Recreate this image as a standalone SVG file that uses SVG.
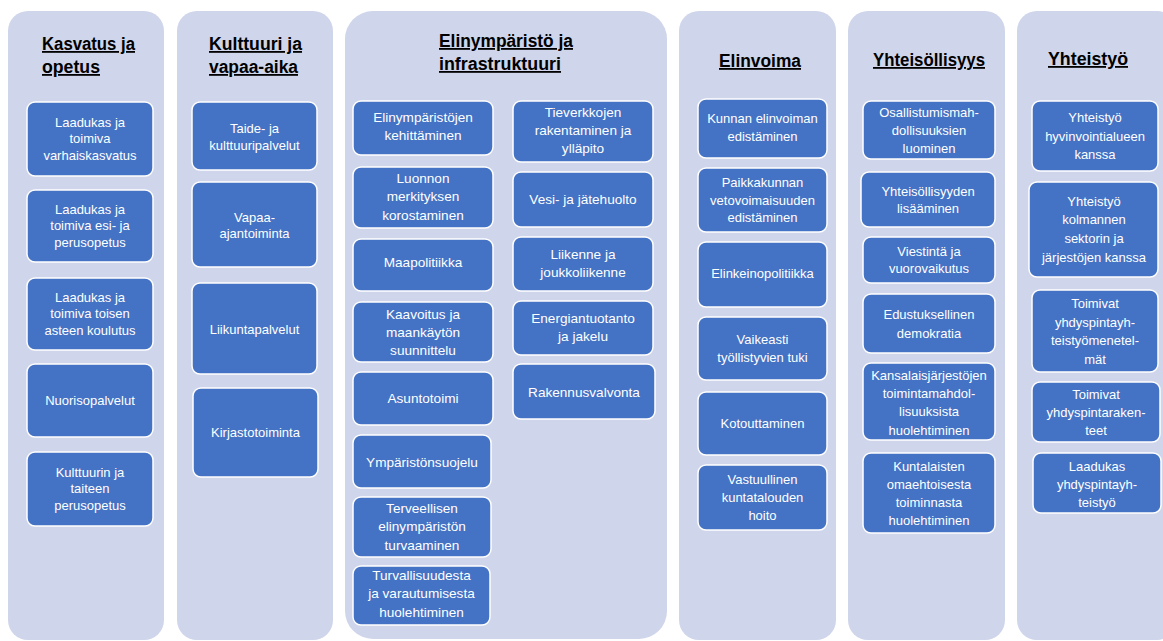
<svg xmlns="http://www.w3.org/2000/svg" width="1163" height="641" viewBox="0 0 1163 641">
<style>
.panel{fill:#CFD5EA;}
.box{fill:#4472C4;stroke:#FFFFFF;stroke-width:1.5;}
.t{font-family:"Liberation Sans",Arial,sans-serif;font-size:13px;fill:#FFFFFF;text-anchor:middle;}
.c3 .t{font-size:13.6px;}
.h{font-family:"Liberation Sans",Arial,sans-serif;font-size:18px;font-weight:bold;fill:#000000;text-decoration:underline;}
</style>
<rect width="1163" height="641" fill="#FFFFFF"/>
<g id="panels">
<rect class="panel" x="8" y="11" width="156" height="629" rx="20"/>
<rect class="panel" x="177" y="11" width="156" height="629" rx="20"/>
<rect class="panel" x="345" y="11" width="322" height="628" rx="28"/>
<rect class="panel" x="679" y="11" width="157" height="629" rx="20"/>
<rect class="panel" x="848" y="11" width="157" height="629" rx="20"/>
<rect class="panel" x="1017" y="11" width="160" height="629" rx="20"/>
</g>
<g id="titles">
<text class="h" x="42" y="50" textLength="93" lengthAdjust="spacingAndGlyphs">Kasvatus ja</text>
<text class="h" x="42" y="73" textLength="58" lengthAdjust="spacingAndGlyphs">opetus</text>
<text class="h" x="209" y="50" textLength="93" lengthAdjust="spacingAndGlyphs">Kulttuuri ja</text>
<text class="h" x="209" y="73" textLength="89" lengthAdjust="spacingAndGlyphs">vapaa-aika</text>
<text class="h" x="439" y="47" textLength="134" lengthAdjust="spacingAndGlyphs">Elinympäristö ja</text>
<text class="h" x="439" y="70" textLength="122" lengthAdjust="spacingAndGlyphs">infrastruktuuri</text>
<text class="h" x="719" y="67" textLength="82" lengthAdjust="spacingAndGlyphs">Elinvoima</text>
<text class="h" x="873" y="66" textLength="112" lengthAdjust="spacingAndGlyphs">Yhteisöllisyys</text>
<text class="h" x="1048" y="65" textLength="80" lengthAdjust="spacingAndGlyphs">Yhteistyö</text>
</g>
<g id="connectors"/>
<!-- Column 1 -->
<g id="k1"><rect class="box" x="27" y="102" width="126" height="74" rx="8"/><text class="t" x="90" y="126.5">Laadukas ja</text><text class="t" x="90" y="143">toimiva</text><text class="t" x="90" y="159.5">varhaiskasvatus</text></g>
<g id="k2"><rect class="box" x="27" y="190" width="126" height="72" rx="8"/><text class="t" x="90" y="213.5">Laadukas ja</text><text class="t" x="90" y="230">toimiva esi- ja</text><text class="t" x="90" y="246.5">perusopetus</text></g>
<g id="k3"><rect class="box" x="27" y="278" width="126" height="72" rx="8"/><text class="t" x="90" y="301.5">Laadukas ja</text><text class="t" x="90" y="318">toimiva toisen</text><text class="t" x="90" y="334.5">asteen koulutus</text></g>
<g id="k4"><rect class="box" x="27" y="364" width="126" height="73" rx="8"/><text class="t" x="90" y="404.5">Nuorisopalvelut</text></g>
<g id="k5"><rect class="box" x="27" y="452" width="126" height="74" rx="8"/><text class="t" x="90" y="476.5">Kulttuurin ja</text><text class="t" x="90" y="493">taiteen</text><text class="t" x="90" y="509.5">perusopetus</text></g>
<!-- Column 2 -->
<g id="v1"><rect class="box" x="192" y="102" width="125" height="68" rx="8"/><text class="t" x="254.5" y="132.5">Taide- ja</text><text class="t" x="254.5" y="149.5">kulttuuripalvelut</text></g>
<g id="v2"><rect class="box" x="192" y="182" width="125" height="85" rx="8"/><text class="t" x="254.5" y="221.5">Vapaa-</text><text class="t" x="254.5" y="238">ajantoiminta</text></g>
<g id="v3"><rect class="box" x="192" y="283" width="125" height="91" rx="8"/><text class="t" x="254.5" y="333.5">Liikuntapalvelut</text></g>
<g id="v4"><rect class="box" x="193" y="388" width="125" height="89" rx="8"/><text class="t" x="255.5" y="436.5">Kirjastotoiminta</text></g>
<!-- Column 3 -->
<g class="c3">
<g id="e1"><rect class="box" x="353" y="101" width="140" height="54" rx="8"/><text class="t" x="423" y="121.5">Elinympäristöjen</text><text class="t" x="423" y="140">kehittäminen</text></g>
<g id="e2"><rect class="box" x="353" y="167" width="140" height="61" rx="8"/><text class="t" x="423" y="182.5">Luonnon</text><text class="t" x="423" y="201">merkityksen</text><text class="t" x="423" y="219.5">korostaminen</text></g>
<g id="e3"><rect class="box" x="353" y="239" width="140" height="52" rx="8"/><text class="t" x="423" y="266.5">Maapolitiikka</text></g>
<g id="e4"><rect class="box" x="353" y="302" width="140" height="60" rx="8"/><text class="t" x="423" y="318.5">Kaavoitus ja</text><text class="t" x="423" y="337">maankäytön</text><text class="t" x="423" y="355">suunnittelu</text></g>
<g id="e5"><rect class="box" x="353" y="372" width="140" height="53" rx="8"/><text class="t" x="423" y="402.5">Asuntotoimi</text></g>
<g id="e6"><rect class="box" x="353" y="435" width="138" height="53" rx="8"/><text class="t" x="422" y="466.5">Ympäristönsuojelu</text></g>
<g id="e7"><rect class="box" x="353" y="497" width="138" height="60" rx="8"/><text class="t" x="422" y="512.5">Terveellisen</text><text class="t" x="422" y="531">elinympäristön</text><text class="t" x="422" y="549.5">turvaaminen</text></g>
<g id="e8"><rect class="box" x="353" y="566" width="137" height="59" rx="8"/><text class="t" x="421.5" y="579.5">Turvallisuudesta</text><text class="t" x="421.5" y="598">ja varautumisesta</text><text class="t" x="421.5" y="616.5">huolehtiminen</text></g>
<g id="i1"><rect class="box" x="513" y="101" width="140" height="61" rx="8"/><text class="t" x="583" y="116.5">Tieverkkojen</text><text class="t" x="583" y="134.5">rakentaminen ja</text><text class="t" x="583" y="152.5">ylläpito</text></g>
<g id="i2"><rect class="box" x="513" y="172" width="140" height="55" rx="8"/><text class="t" x="583" y="203.5">Vesi- ja jätehuolto</text></g>
<g id="i3"><rect class="box" x="513" y="237" width="140" height="54" rx="8"/><text class="t" x="583" y="258.5">Liikenne ja</text><text class="t" x="583" y="277">joukkoliikenne</text></g>
<g id="i4"><rect class="box" x="513" y="301" width="140" height="54" rx="8"/><text class="t" x="583" y="322.5">Energiantuotanto</text><text class="t" x="583" y="341">ja jakelu</text></g>
<g id="i5"><rect class="box" x="513" y="364" width="142" height="55" rx="8"/><text class="t" x="584" y="396.5">Rakennusvalvonta</text></g>
</g>
<!-- Column 4 -->
<g id="el1"><rect class="box" x="698" y="99" width="129" height="59" rx="8"/><text class="t" x="762.5" y="122.5">Kunnan elinvoiman</text><text class="t" x="762.5" y="140.5">edistäminen</text></g>
<g id="el2"><rect class="box" x="698" y="168" width="129" height="64" rx="8"/><text class="t" x="762.5" y="186.5">Paikkakunnan</text><text class="t" x="762.5" y="204.5">vetovoimaisuuden</text><text class="t" x="762.5" y="222">edistäminen</text></g>
<g id="el3"><rect class="box" x="698" y="242" width="129" height="65" rx="8"/><text class="t" x="762.5" y="277.5">Elinkeinopolitiikka</text></g>
<g id="el4"><rect class="box" x="698" y="317" width="129" height="63" rx="8"/><text class="t" x="762.5" y="343.5">Vaikeasti</text><text class="t" x="762.5" y="361.5">työllistyvien tuki</text></g>
<g id="el5"><rect class="box" x="698" y="392" width="129" height="63" rx="8"/><text class="t" x="762.5" y="427.5">Kotouttaminen</text></g>
<g id="el6"><rect class="box" x="698" y="465" width="129" height="65" rx="8"/><text class="t" x="762.5" y="483.5">Vastuullinen</text><text class="t" x="762.5" y="501.5">kuntatalouden</text><text class="t" x="762.5" y="520">hoito</text></g>
<!-- Column 5 -->
<g id="y1"><rect class="box" x="863" y="101" width="132" height="58" rx="8"/><text class="t" x="929" y="116.5">Osallistumismah-</text><text class="t" x="929" y="134.5">dollisuuksien</text><text class="t" x="929" y="152.5">luominen</text></g>
<g id="y2"><rect class="box" x="861" y="172" width="134" height="55" rx="8"/><text class="t" x="928" y="195.5">Yhteisöllisyyden</text><text class="t" x="928" y="213">lisääminen</text></g>
<g id="y3"><rect class="box" x="863" y="237" width="132" height="46" rx="8"/><text class="t" x="929" y="255.5">Viestintä ja</text><text class="t" x="929" y="272.5">vuorovaikutus</text></g>
<g id="y4"><rect class="box" x="863" y="294" width="132" height="59" rx="8"/><text class="t" x="929" y="318.5">Edustuksellinen</text><text class="t" x="929" y="337.5">demokratia</text></g>
<g id="y5"><rect class="box" x="863" y="363" width="132" height="77" rx="8"/><text class="t" x="929" y="379.5">Kansalaisjärjestöjen</text><text class="t" x="929" y="397.5">toimintamahdol-</text><text class="t" x="929" y="416">lisuuksista</text><text class="t" x="929" y="434.5">huolehtiminen</text></g>
<g id="y6"><rect class="box" x="863" y="453" width="132" height="80" rx="8"/><text class="t" x="929" y="470.5">Kuntalaisten</text><text class="t" x="929" y="488.5">omaehtoisesta</text><text class="t" x="929" y="506.5">toiminnasta</text><text class="t" x="929" y="524.5">huolehtiminen</text></g>
<!-- Column 6 -->
<g id="ys1"><rect class="box" x="1032" y="101" width="126" height="70" rx="8"/><text class="t" x="1095" y="121.5">Yhteistyö</text><text class="t" x="1095" y="140.5">hyvinvointialueen</text><text class="t" x="1095" y="158.5">kanssa</text></g>
<g id="ys2"><rect class="box" x="1029" y="182" width="129" height="95" rx="8"/><text class="t" x="1094" y="205.5">Yhteistyö</text><text class="t" x="1094" y="223.5">kolmannen</text><text class="t" x="1094" y="242.5">sektorin ja</text><text class="t" x="1094" y="261.5">järjestöjen kanssa</text></g>
<g id="ys3"><rect class="box" x="1032" y="290" width="126" height="82" rx="8"/><text class="t" x="1095" y="307.5">Toimivat</text><text class="t" x="1095" y="326.5">yhdyspintayh-</text><text class="t" x="1095" y="344.5">teistyömenetel-</text><text class="t" x="1095" y="363.5">mät</text></g>
<g id="ys4"><rect class="box" x="1032" y="382" width="128" height="60" rx="8"/><text class="t" x="1096" y="398.5">Toimivat</text><text class="t" x="1096" y="416.5">yhdyspintaraken-</text><text class="t" x="1096" y="434.5">teet</text></g>
<g id="ys5"><rect class="box" x="1033" y="453" width="128" height="60" rx="8"/><text class="t" x="1097" y="470.5">Laadukas</text><text class="t" x="1097" y="488.5">yhdyspintayh-</text><text class="t" x="1097" y="506.5">teistyö</text></g>
</svg>
